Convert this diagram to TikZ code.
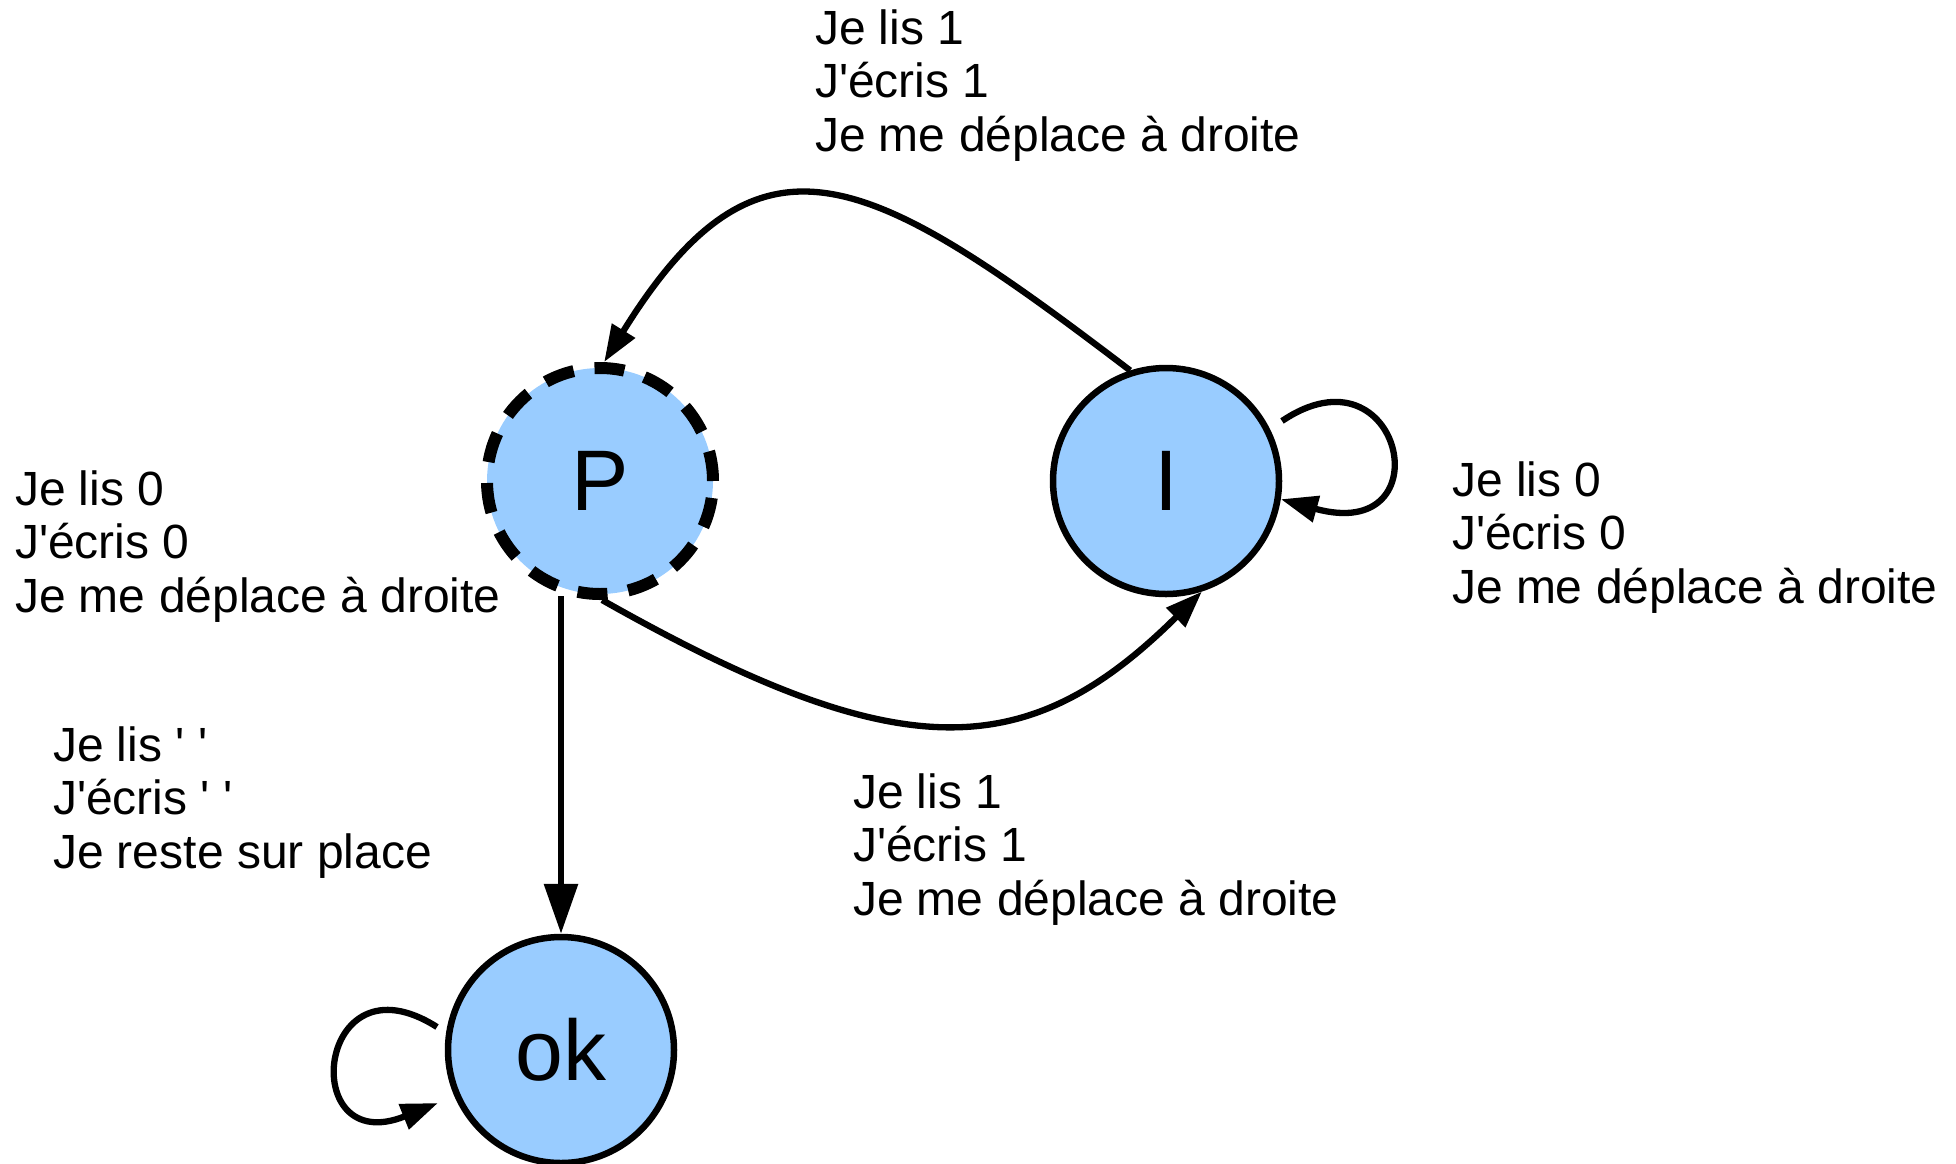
\documentclass[tikz,border=0pt]{standalone}
\usepackage{fontspec}
\setmainfont{Liberation Sans}
\usetikzlibrary{arrows.meta,calc}
\definecolor{stateblue}{HTML}{99CCFF}

\begin{document}
\begin{tikzpicture}[x=1pt,y=-1pt,
  state/.style={circle, draw=black, line width=6.5pt, fill=stateblue,
    minimum size=226pt, inner sep=0pt, font=\fontsize{86}{90}\selectfont},
  start state/.style={state, line width=12pt, dash pattern=on 30pt off 21pt},
  edge/.style={draw=black, line width=6.3pt},
  bighead/.style={-{Triangle[length=50pt,width=33pt]}},
  smallhead/.style={-{Triangle[length=37pt,width=26pt]}},
  lbl/.style={align=left, inner sep=0pt, outer sep=0pt, anchor=base west,
    font=\fontsize{48}{53.5}\selectfont}]

\useasboundingbox (0,0) rectangle (1956,1163);

% states
\node[start state] (P) at (600,481) {P};
\node[state] (I) at (1166,481) {I};
\node[state] (ok) at (561,1050) {ok};

% transitions between states
\draw[edge, smallhead] (I.108) .. controls (867,170) and (759,112) .. (P.88);
\draw[edge, smallhead] (P.-89) .. controls (899,768) and (1026,766) .. (I.-72);
\coordinate (pok) at ($(P.center)+(-39,115)$);
\draw[edge, bighead] (pok) -- (pok |- ok.north);

% loops
\coordinate (Iout) at ($(I.center)+(116,-60)$);
\draw[edge, smallhead] (Iout) .. controls (1402,340) and (1446,545) .. (I.-9);
\coordinate (okout) at ($(ok.center)+(-124,-23)$);
\coordinate (okin) at ($(ok.center)+(-123,53)$);
\draw[edge, smallhead] (okout) .. controls (316,950) and (296,1160) .. (okin);

% transition labels (anchored at the baseline of the last line)
\node[lbl] (ltop) at (815,151) {Je lis 1\\J\textquotesingle écris 1\\Je me déplace à droite};
\node[lbl] (lleft) at (15,612) {Je lis 0\\J\textquotesingle écris 0\\Je me déplace à droite};
\node[lbl] (lright) at (1452,603) {Je lis 0\\J\textquotesingle écris 0\\Je me déplace à droite};
\node[lbl] (lok) at (53,868) {Je lis \textquotesingle\ \textquotesingle\\J\textquotesingle écris \textquotesingle\ \textquotesingle\\Je reste sur place};
\node[lbl] (lbot) at (853,915) {Je lis 1\\J\textquotesingle écris 1\\Je me déplace à droite};
\end{tikzpicture}
\end{document}
